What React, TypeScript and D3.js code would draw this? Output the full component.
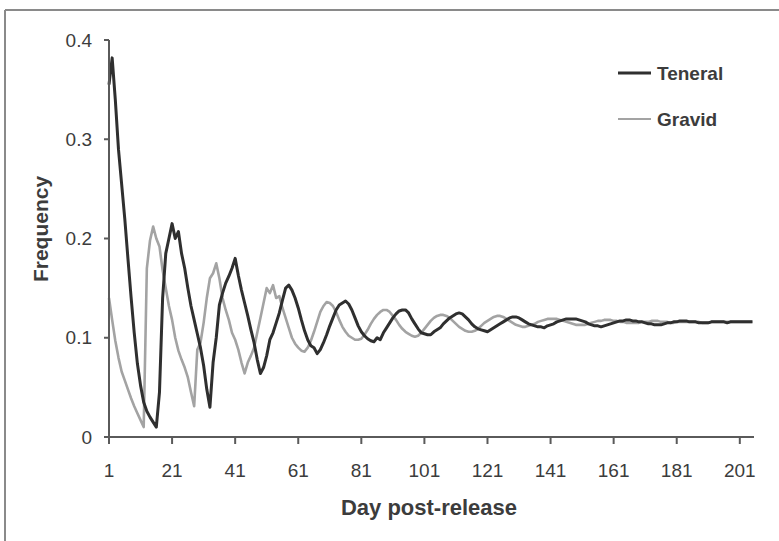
import React from "react";
import * as d3 from "d3";

const xTickLabels = ["1", "21", "41", "61", "81", "101", "121", "141", "161", "181", "201"];
const yTickValues = [0, 0.1, 0.2, 0.3, 0.4];
const seriesNames = ["Teneral", "Gravid"];

// Daily values, day 1 .. 205
const teneral = [
  0.355, 0.382, 0.340, 0.290, 0.255, 0.220, 0.180, 0.141, 0.105, 0.074,
  0.052, 0.035, 0.026, 0.020, 0.015, 0.010, 0.045, 0.140, 0.185, 0.200,
  0.215, 0.200, 0.207, 0.185, 0.170, 0.150, 0.132, 0.118, 0.104, 0.090,
  0.072, 0.048, 0.030, 0.075, 0.100, 0.133, 0.145, 0.155, 0.162, 0.170,
  0.180, 0.163, 0.148, 0.135, 0.122, 0.108, 0.095, 0.078, 0.064, 0.070,
  0.082, 0.098, 0.105, 0.115, 0.125, 0.138, 0.150, 0.153, 0.148, 0.140,
  0.130, 0.118, 0.107, 0.098, 0.092, 0.090, 0.084, 0.088, 0.095, 0.103,
  0.112, 0.120, 0.128, 0.133, 0.135, 0.137, 0.134, 0.128, 0.120, 0.112,
  0.106, 0.102, 0.099, 0.097, 0.096, 0.100, 0.098, 0.105, 0.110, 0.115,
  0.120, 0.124, 0.127, 0.128, 0.128, 0.125, 0.119, 0.114, 0.109, 0.105,
  0.104, 0.103, 0.103, 0.106, 0.108, 0.110, 0.114, 0.117, 0.120, 0.122,
  0.124, 0.125, 0.124, 0.121, 0.118, 0.114, 0.111, 0.109, 0.108, 0.107,
  0.106, 0.108, 0.110, 0.112, 0.114, 0.116, 0.118, 0.120, 0.121, 0.121,
  0.120, 0.118, 0.116, 0.114, 0.113, 0.112, 0.111, 0.111, 0.110, 0.112,
  0.113, 0.114, 0.116, 0.117, 0.118, 0.119, 0.119, 0.119, 0.119, 0.118,
  0.117, 0.116, 0.114, 0.113, 0.112, 0.112, 0.111, 0.112, 0.113, 0.114,
  0.115, 0.116, 0.117, 0.117, 0.118, 0.118, 0.117, 0.117, 0.116, 0.116,
  0.115, 0.114, 0.114, 0.113, 0.113, 0.113, 0.114, 0.115, 0.115, 0.116,
  0.116, 0.117, 0.117, 0.117, 0.116, 0.116, 0.116, 0.115, 0.115, 0.115,
  0.115, 0.116, 0.116, 0.116, 0.116, 0.116, 0.115, 0.116, 0.116, 0.116,
  0.116, 0.116, 0.116, 0.116, 0.116,
];

const gravid = [
  0.140, 0.118, 0.097, 0.080, 0.066, 0.057, 0.048, 0.039, 0.031, 0.024,
  0.017, 0.010, 0.170, 0.198, 0.212, 0.200, 0.192, 0.168, 0.150, 0.132,
  0.118, 0.100, 0.087, 0.078, 0.070, 0.060, 0.045, 0.031, 0.088, 0.095,
  0.115, 0.140, 0.160, 0.165, 0.175, 0.160, 0.140, 0.128, 0.118, 0.105,
  0.098, 0.088, 0.075, 0.064, 0.075, 0.082, 0.090, 0.105, 0.120, 0.135,
  0.150, 0.145, 0.153, 0.140, 0.142, 0.130, 0.120, 0.110, 0.100, 0.094,
  0.090, 0.087, 0.086, 0.090, 0.097, 0.106, 0.116, 0.126, 0.132, 0.136,
  0.135, 0.132, 0.126, 0.118, 0.111, 0.106, 0.102, 0.100, 0.098, 0.098,
  0.099, 0.103, 0.108, 0.114, 0.119, 0.123, 0.126, 0.128, 0.128, 0.126,
  0.122, 0.118, 0.113, 0.109, 0.106, 0.104, 0.102, 0.101, 0.102, 0.105,
  0.109, 0.113, 0.117, 0.120, 0.122, 0.123, 0.123, 0.122, 0.120, 0.117,
  0.114, 0.111, 0.109, 0.107, 0.106, 0.106, 0.107, 0.109, 0.112, 0.115,
  0.117, 0.119, 0.121, 0.122, 0.122, 0.121, 0.119, 0.117, 0.115, 0.113,
  0.112, 0.111, 0.111, 0.112, 0.113, 0.114, 0.116, 0.117, 0.118, 0.119,
  0.119, 0.119, 0.119, 0.118, 0.117, 0.116, 0.115, 0.114, 0.113, 0.113,
  0.113, 0.113, 0.114, 0.115, 0.116, 0.117, 0.117, 0.118, 0.118, 0.118,
  0.117, 0.117, 0.116, 0.116, 0.115, 0.115, 0.115, 0.115, 0.115, 0.116,
  0.116, 0.116, 0.117, 0.117, 0.117, 0.116, 0.116, 0.116, 0.115, 0.115,
  0.116, 0.116, 0.116, 0.116, 0.116, 0.116, 0.116, 0.116, 0.115, 0.115,
  0.115, 0.116, 0.116, 0.116, 0.116, 0.116, 0.116, 0.116, 0.116, 0.116,
  0.116, 0.116, 0.116, 0.116, 0.116,
];

const W = 779;
const H = 541;
const FONT = "'Liberation Sans', Arial, sans-serif";

export default function App() {
  const x = d3.scaleLinear().domain([1, 205.5]).range([109, 754]);
  const y = d3.scaleLinear().domain([0, 0.4]).range([437, 40]);

  const line = d3
    .line<number>()
    .x((_, i) => x(i + 1))
    .y((d) => y(d));

  const axisColor = "#5a5a5a";
  const textColor = "#3c3c3c";

  return (
    <svg
      width={W}
      height={H}
      style={{ position: "absolute", left: 0, top: 0, background: "#fff" }}
    >
      {/* frame */}
      <line x1={5} y1={10} x2={W} y2={10} stroke="#8a8a8a" strokeWidth={2} />
      <line x1={5} y1={10} x2={5} y2={H} stroke="#8a8a8a" strokeWidth={2} />

      {/* series */}
      <path d={line(gravid) || ""} fill="none" stroke="#a3a3a3" strokeWidth={2.6} strokeLinejoin="round" />
      <path d={line(teneral) || ""} fill="none" stroke="#2f2f2f" strokeWidth={3} strokeLinejoin="round" />

      {/* y axis */}
      <line x1={x(1)} y1={y(0.4)} x2={x(1)} y2={y(0)} stroke={axisColor} strokeWidth={2} />
      {yTickValues.map((v) => (
        <g key={v}>
          <line x1={x(1) - 5} x2={x(1)} y1={y(v)} y2={y(v)} stroke={axisColor} strokeWidth={2} />
          <text
            x={92}
            y={y(v)}
            dy="0.35em"
            textAnchor="end"
            fontFamily={FONT}
            fontSize={19}
            fill={textColor}
          >
            {v === 0 ? "0" : d3.format(".1f")(v)}
          </text>
        </g>
      ))}

      {/* x axis */}
      <line x1={x(1)} y1={y(0)} x2={754} y2={y(0)} stroke={axisColor} strokeWidth={2} />
      {xTickLabels.map((t) => {
        const d = +t;
        return (
          <g key={t}>
            <line x1={x(d)} x2={x(d)} y1={y(0)} y2={y(0) + 7} stroke={axisColor} strokeWidth={2} />
            <text
              x={x(d)}
              y={477}
              textAnchor="middle"
              fontFamily={FONT}
              fontSize={19}
              fill={textColor}
            >
              {t}
            </text>
          </g>
        );
      })}

      {/* axis titles */}
      <text
        x={429}
        y={515}
        textAnchor="middle"
        fontFamily={FONT}
        fontSize={22}
        fontWeight="bold"
        fill={textColor}
      >
        Day post-release
      </text>
      <text
        transform={`translate(48,229) rotate(-90)`}
        textAnchor="middle"
        fontFamily={FONT}
        fontSize={21}
        fontWeight="bold"
        fill={textColor}
      >
        Frequency
      </text>

      {/* legend */}
      {seriesNames.map((name, i) => {
        const ly = 73 + i * 46;
        return (
          <g key={name}>
            <line
              x1={618}
              x2={651}
              y1={ly}
              y2={ly}
              stroke={i === 0 ? "#2f2f2f" : "#a3a3a3"}
              strokeWidth={i === 0 ? 3 : 2.2}
            />
            <text
              x={657}
              y={ly}
              dy="0.35em"
              fontFamily={FONT}
              fontSize={19}
              fontWeight="bold"
              fill={textColor}
            >
              {name}
            </text>
          </g>
        );
      })}
    </svg>
  );
}
